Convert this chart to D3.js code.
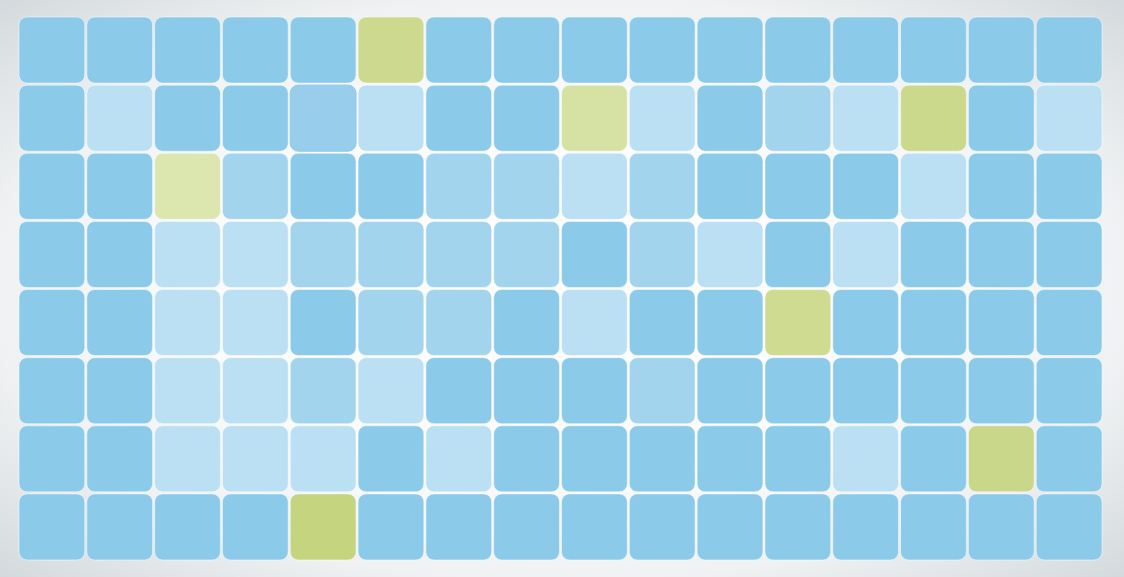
<!DOCTYPE html>
<html>
<head>
<meta charset="utf-8">
<script src="https://cdn.jsdelivr.net/npm/d3@7"></script>
<style>
  html, body { margin: 0; padding: 0; overflow: hidden; }
</style>
</head>
<body>
<div id="grid"></div>
<script>
// cell codes: b0 dark blue, b1 mid blue, b2 light blue, bm mid blue (framed), g* greens
const rowIds = [0, 1, 2, 3, 4, 5, 6, 7];
const colIds = d3.range(16);

const row0 = ["b0","b0","b0","b0","b0","g1","b0","b0","b0","b0","b0","b0","b0","b0","b0","b0"];
const row1 = ["b0","b2","b0","b0","bm","b2","b0","b0","g2","b2","b0","b1","b2","g3","b0","b2"];
const row2 = ["b0","b0","g4","b1","b0","b0","b1","b1","b2","b1","b0","b0","b0","b2","b0","b0"];
const row3 = ["b0","b0","b2","b2","b1","b1","b1","b1","b0","b1","b2","b0","b2","b0","b0","b0"];
const row4 = ["b0","b0","b2","b2","b0","b1","b1","b0","b2","b0","b0","g5","b0","b0","b0","b0"];
const row5 = ["b0","b0","b2","b2","b1","b2","b0","b0","b0","b1","b0","b0","b0","b0","b0","b0"];
const row6 = ["b0","b0","b2","b2","b2","b0","b2","b0","b0","b0","b0","b0","b2","b0","g6","b0"];
const row7 = ["b0","b0","b0","b0","g7","b0","b0","b0","b0","b0","b0","b0","b0","b0","b0","b0"];
const rows = [row0, row1, row2, row3, row4, row5, row6, row7];

const codes = ["b0","b1","b2","bm","g1","g2","g3","g4","g5","g6","g7"];
const palette = ["#8ccaea","#a3d4ee","#bbe0f3","#98cdec","#cdd98f","#d6e2a4","#cbd98c","#dce6af","#cfdb91","#c9d78b","#c4d47f"];

const width = 1124;
const height = 577;

const svg = d3.select("#grid").append("svg")
    .attr("width", width)
    .attr("height", height);

const defs = svg.append("defs");
const bg = defs.append("radialGradient")
    .attr("id", "bg")
    .attr("cx", "50%").attr("cy", "50%").attr("r", "71%");
bg.append("stop").attr("offset", "0%").attr("stop-color", "#ffffff");
bg.append("stop").attr("offset", "45%").attr("stop-color", "#fbfbfc");
bg.append("stop").attr("offset", "72%").attr("stop-color", "#eff1f2");
bg.append("stop").attr("offset", "100%").attr("stop-color", "#d3d9dc");

svg.append("rect")
    .attr("width", width)
    .attr("height", height)
    .attr("fill", "url(#bg)");

const x = d3.scaleBand()
    .domain(colIds)
    .range([19, 1102])
    .paddingInner(0.03);

const y = d3.scaleBand()
    .domain(rowIds)
    .range([17, 560])
    .paddingInner(0.03);

const color = d3.scaleOrdinal()
    .domain(codes)
    .range(palette);

const cells = [];
rows.forEach((r, i) => r.forEach((c, j) => cells.push({ row: i, col: j, code: c })));

svg.append("g")
    .selectAll("rect")
    .data(cells)
    .join("rect")
    .attr("x", d => x(d.col))
    .attr("y", d => y(d.row))
    .attr("width", x.bandwidth())
    .attr("height", y.bandwidth())
    .attr("rx", 8)
    .attr("ry", 8)
    .attr("fill", d => color(d.code))
    .attr("stroke", d => d.code === "bm" ? "#8fcaea" : "rgba(255,255,255,0.5)")
    .attr("stroke-width", 1);
</script>
</body>
</html>
